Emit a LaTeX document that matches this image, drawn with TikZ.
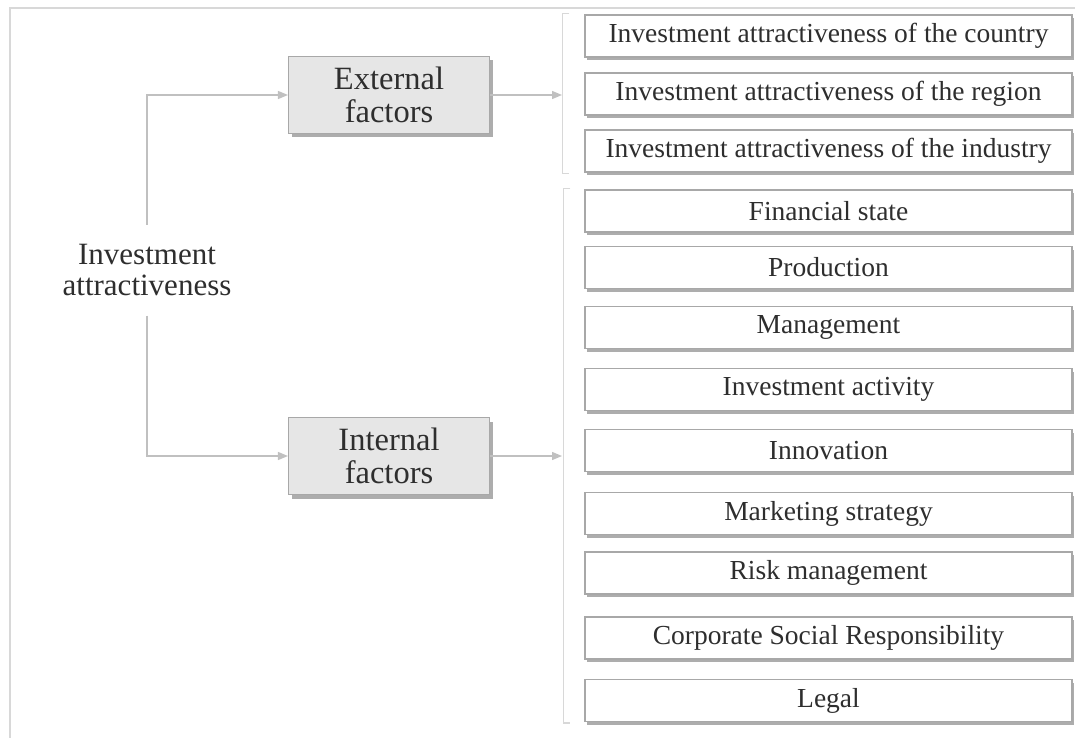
\documentclass[tikz,border=0pt]{standalone}
\usepackage{fontspec}
\setmainfont{Liberation Serif}
\usetikzlibrary{arrows.meta,shadows}
\definecolor{txt}{HTML}{2E2E2E}
\definecolor{bord}{HTML}{A8A8A8}
\definecolor{conn}{HTML}{C0C0C0}
\definecolor{frm}{HTML}{D8D8D8}
\definecolor{grayfill}{HTML}{E6E6E6}
\tikzset{
  itembox/.style={draw=bord, line width=1.1pt, fill=white, minimum width=487pt, minimum height=42pt,
    inner sep=0pt, text=txt, font=\fontsize{27.5}{30}\selectfont,
    drop shadow={shadow xshift=2pt, shadow yshift=-3pt, fill=black!40, opacity=0.8}},
  factorbox/.style={draw=bord, line width=1.1pt, fill=grayfill, minimum width=201pt, minimum height=77pt,
    inner sep=0pt, text=txt, align=center, font=\fontsize{32.5}{33}\selectfont,
    drop shadow={shadow xshift=3pt, shadow yshift=-4pt, fill=black!40, opacity=0.8}},
  conline/.style={draw=conn, line width=1.3pt},
  conarrow/.style={conline, -{Triangle[length=10pt,width=8pt]}},
  brk/.style={draw=frm, line width=1.3pt},
  frame/.style={draw=frm, line width=2.2pt}
}
\begin{document}
\begin{tikzpicture}[x=1pt,y=-1pt]
\useasboundingbox (0,0) rectangle (1075,738);
\fill[white] (0,0) rectangle (1075,738);
% outer frame
\draw[frame] (10,740) -- (10,8) -- (1077,8);

% left label
\node[text=txt, align=center, inner xsep=0pt, inner ysep=19pt, font=\fontsize{31}{32}\selectfont] (lab) at (147,270) {Investment\\attractiveness};

% factor boxes
\node[factorbox] (ext) at (389,95) {External\\factors};
\node[factorbox] (int) at (389,456) {Internal\\factors};

% external items
\node[itembox] (e1) at (828.5,36) {Investment attractiveness of the country};
\node[itembox] (e2) at (828.5,94) {Investment attractiveness of the region};
\node[itembox] (e3) at (828.5,151) {Investment attractiveness of the industry};

% internal items
\node[itembox] (i1) at (828.5,211) {Financial state};
\node[itembox] (i2) at (828.5,267.5) {Production};
\node[itembox] (i3) at (828.5,327.5) {Management};
\node[itembox] (i4) at (828.5,389.5) {Investment activity};
\node[itembox] (i5) at (828.5,450.5) {Innovation};
\node[itembox] (i6) at (828.5,513.5) {Marketing strategy};
\node[itembox] (i7) at (828.5,573) {Risk management};
\node[itembox] (i8) at (828.5,638) {Corporate Social Responsibility};
\node[itembox] (i9) at (828.5,700.5) {Legal};

% brackets
\draw[brk] ([xshift=-15pt,yshift=1pt]e1.north west) -- ++(-7,0) |- ([xshift=-15pt,yshift=-1pt]e3.south west);
\draw[brk] ([xshift=-14pt,yshift=1pt]i1.north west) -- ++(-7,0) |- ([xshift=-14pt,yshift=-1pt]i9.south west);

\coordinate (eb) at (562,95);
\coordinate (ib) at (562,456);

% connectors
\draw[conarrow] (lab.north) |- (ext.west);
\draw[conarrow] (lab.south) |- (int.west);
\draw[conarrow] (ext.east) -- (eb);
\draw[conarrow] (int.east) -- (ib);
\end{tikzpicture}
\end{document}
